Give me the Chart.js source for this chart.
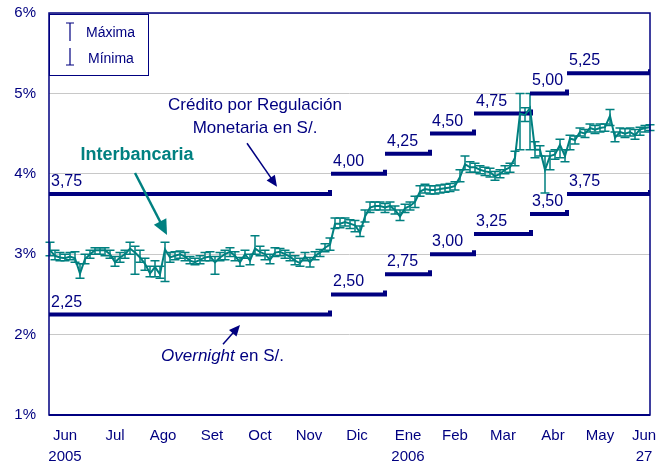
<!DOCTYPE html>
<html>
<head>
<meta charset="utf-8">
<script src="https://cdn.jsdelivr.net/npm/chart.js@4"></script>
<style>
  body { margin: 0; background: #fff; }
  canvas { display: block; }
</style>
</head>
<body>
<canvas id="chart" width="669" height="463"></canvas>
<script>
// tasa interbancaria promedio diaria (serie muestreada) y sus extremos
const tasaInterbancaria = [3.05, 2.98, 2.96, 2.95, 2.97, 2.95, 2.76, 2.94, 3.00, 3.05,
  3.05, 3.05, 3.00, 2.90, 2.96, 3.00, 3.07, 3.02, 2.96, 2.88,
  2.76, 2.84, 2.75, 3.06, 2.96, 2.98, 3.00, 2.97, 2.92, 2.90,
  2.93, 2.96, 2.97, 2.90, 2.96, 3.00, 3.03, 2.98, 2.90, 3.00,
  2.92, 3.07, 3.03, 3.00, 2.93, 3.02, 3.03, 3.00, 2.97, 2.92,
  2.89, 2.97, 2.90, 2.98, 3.02, 3.08, 3.12, 3.38, 3.38, 3.40,
  3.38, 3.36, 3.27, 3.47, 3.58, 3.60, 3.60, 3.58, 3.60, 3.55,
  3.47, 3.57, 3.60, 3.65, 3.78, 3.81, 3.80, 3.80, 3.81, 3.82,
  3.83, 3.85, 3.96, 4.12, 4.08, 4.08, 4.05, 4.03, 4.02, 3.97,
  4.00, 4.05, 4.08, 4.20, 4.75, 4.73, 4.82, 4.30, 4.30, 4.05,
  4.22, 4.24, 4.36, 4.22, 4.44, 4.42, 4.52, 4.50, 4.57, 4.55,
  4.57, 4.58, 4.72, 4.45, 4.52, 4.50, 4.52, 4.48, 4.55, 4.57, 4.58];
const maxima = [3.15, 3.05, 3.02, 3.00, 3.02, 3.03, 2.88, 3.00, 3.05, 3.08,
  3.08, 3.08, 3.05, 2.97, 3.02, 3.05, 3.15, 3.10, 3.05, 2.95,
  2.85, 2.92, 2.85, 3.15, 3.02, 3.03, 3.04, 3.02, 2.97, 2.95,
  2.98, 3.02, 3.03, 2.97, 3.02, 3.05, 3.08, 3.03, 2.96, 3.05,
  3.00, 3.23, 3.10, 3.05, 3.00, 3.08, 3.07, 3.05, 3.02, 2.98,
  2.95, 3.02, 2.96, 3.03, 3.06, 3.13, 3.20, 3.45, 3.45, 3.45,
  3.43, 3.42, 3.35, 3.55, 3.65, 3.65, 3.65, 3.63, 3.65, 3.60,
  3.55, 3.62, 3.65, 3.72, 3.85, 3.87, 3.85, 3.85, 3.86, 3.87,
  3.88, 3.90, 4.05, 4.22, 4.15, 4.13, 4.10, 4.08, 4.07, 4.03,
  4.05, 4.10, 4.13, 4.28, 5.00, 4.82, 5.00, 4.40, 4.35, 4.22,
  4.28, 4.30, 4.43, 4.30, 4.48, 4.47, 4.57, 4.55, 4.62, 4.60,
  4.62, 4.62, 4.80, 4.52, 4.57, 4.56, 4.57, 4.55, 4.58, 4.60, 4.61];
const minima = [2.98, 2.93, 2.92, 2.92, 2.93, 2.90, 2.70, 2.88, 2.95, 3.00,
  3.00, 2.98, 2.95, 2.85, 2.90, 2.95, 3.00, 2.75, 2.90, 2.80,
  2.72, 2.72, 2.70, 2.66, 2.90, 2.93, 2.95, 2.92, 2.88, 2.87,
  2.88, 2.92, 2.92, 2.75, 2.92, 2.93, 2.97, 2.92, 2.85, 2.95,
  2.87, 3.00, 2.98, 2.93, 2.88, 2.97, 2.98, 2.95, 2.92, 2.87,
  2.85, 2.92, 2.84, 2.93, 2.97, 3.03, 3.05, 3.32, 3.33, 3.35,
  3.32, 3.28, 3.22, 3.40, 3.52, 3.55, 3.55, 3.52, 3.55, 3.50,
  3.42, 3.52, 3.55, 3.58, 3.72, 3.76, 3.75, 3.75, 3.76, 3.77,
  3.78, 3.80, 3.90, 4.05, 4.02, 4.02, 4.00, 3.98, 3.96, 3.92,
  3.95, 4.00, 4.02, 4.10, 4.30, 4.65, 4.30, 4.20, 4.22, 3.76,
  4.05, 4.18, 4.20, 4.15, 4.30, 4.37, 4.47, 4.45, 4.52, 4.50,
  4.52, 4.53, 4.60, 4.40, 4.47, 4.45, 4.47, 4.43, 4.48, 4.52, 4.54];

// tramos del corredor (en número de observación)
const inicioTramos = [-0.2, 56.2, 67, 76, 84.8, 96, 103.4];
const finTramos = [56, 67, 76, 84.8, 96.2, 103.4, 120];
const tasaCredito = [3.75, 4.00, 4.25, 4.50, 4.75, 5.00, 5.25];
const tasaOvernight = [2.25, 2.50, 2.75, 3.00, 3.25, 3.50, 3.75];

// eje x
const posMeses = [3, 13, 22.6, 32.4, 42, 51.8, 61.4, 71.6, 81, 90.6, 100.6, 110, 118.8];
const etiquetasMeses = [['Jun', '2005'], 'Jul', 'Ago', 'Set', 'Oct', 'Nov', 'Dic', ['Ene', '2006'], 'Feb', 'Mar', 'Abr', 'May', ['Jun', '27']];

const AZUL = '#000080';
const VERDE = '#008080';
const FUENTE = '"Liberation Sans", Arial, sans-serif';

function tramos(tasas) {
  const pts = [];
  tasas.forEach((t, i) => {
    pts.push({x: inicioTramos[i], y: t});
    pts.push({x: finTramos[i], y: t});
    pts.push({x: finTramos[i], y: t + 0.05});
    pts.push({x: finTramos[i], y: null});
  });
  return pts;
}

function flecha(ctx, x1, y1, x2, y2, color, ancho, largo, abre) {
  const ang = Math.atan2(y2 - y1, x2 - x1);
  ctx.save();
  ctx.strokeStyle = color;
  ctx.fillStyle = color;
  ctx.lineWidth = ancho;
  ctx.beginPath();
  ctx.moveTo(x1, y1);
  ctx.lineTo(x2 - Math.cos(ang) * largo * 0.8, y2 - Math.sin(ang) * largo * 0.8);
  ctx.stroke();
  ctx.beginPath();
  ctx.moveTo(x2, y2);
  ctx.lineTo(x2 - largo * Math.cos(ang) + abre * Math.sin(ang), y2 - largo * Math.sin(ang) - abre * Math.cos(ang));
  ctx.lineTo(x2 - largo * Math.cos(ang) - abre * Math.sin(ang), y2 - largo * Math.sin(ang) + abre * Math.cos(ang));
  ctx.closePath();
  ctx.fill();
  ctx.restore();
}

const extrasPlugin = {
  id: 'extras',
  beforeDatasetsDraw(chart) {
    // barras de máxima y mínima
    const {ctx, scales: {x, y}} = chart;
    ctx.save();
    ctx.strokeStyle = VERDE;
    ctx.lineWidth = 1.5;
    tasaInterbancaria.forEach((v, i) => {
      const px = x.getPixelForValue(i);
      const pMax = y.getPixelForValue(maxima[i]);
      const pMin = y.getPixelForValue(minima[i]);
      ctx.beginPath();
      ctx.moveTo(px, pMax); ctx.lineTo(px, pMin);
      ctx.moveTo(px - 4.5, pMax); ctx.lineTo(px + 4.5, pMax);
      ctx.moveTo(px - 4.5, pMin); ctx.lineTo(px + 4.5, pMin);
      ctx.stroke();
    });
    ctx.restore();
  },
  afterDraw(chart) {
    const {ctx, chartArea: a, scales: {x, y}} = chart;
    ctx.save();
    // marco
    ctx.strokeStyle = AZUL;
    ctx.lineWidth = 1.5;
    ctx.strokeRect(a.left, a.top, a.right - a.left, a.bottom - a.top);
    ctx.lineWidth = 2;
    ctx.beginPath();
    ctx.moveTo(a.left, a.bottom); ctx.lineTo(a.right, a.bottom);
    ctx.stroke();

    // etiquetas de las tasas del corredor
    ctx.fillStyle = AZUL;
    ctx.font = '16px ' + FUENTE;
    ctx.textBaseline = 'alphabetic';
    ctx.textAlign = 'left';
    const etiqueta = t => t.toFixed(2).replace('.', ',');
    tasaCredito.forEach((t, i) => {
      ctx.fillText(etiqueta(t), x.getPixelForValue(inicioTramos[i]) + 2, y.getPixelForValue(t) - 8);
    });
    tasaOvernight.forEach((t, i) => {
      ctx.fillText(etiqueta(t), x.getPixelForValue(inicioTramos[i]) + 2, y.getPixelForValue(t) - 8);
    });

    // textos
    ctx.font = '17px ' + FUENTE;
    ctx.textAlign = 'center';
    ctx.textBaseline = 'middle';
    ctx.fillText('Crédito por Regulación', x.getPixelForValue(41), y.getPixelForValue(4.85));
    ctx.fillText('Monetaria en S/.', x.getPixelForValue(41), y.getPixelForValue(4.57));
    flecha(ctx, x.getPixelForValue(39.4), y.getPixelForValue(4.38), x.getPixelForValue(45.4), y.getPixelForValue(3.84), AZUL, 1.5, 11, 5);

    ctx.font = 'italic 17px ' + FUENTE;
    const w1 = ctx.measureText('Overnight').width;
    ctx.font = '17px ' + FUENTE;
    const w2 = ctx.measureText(' en S/.').width;
    const cx = x.getPixelForValue(34.5) - (w1 + w2) / 2;
    const cy = y.getPixelForValue(1.73);
    ctx.textAlign = 'left';
    ctx.font = 'italic 17px ' + FUENTE;
    ctx.fillText('Overnight', cx, cy);
    ctx.font = '17px ' + FUENTE;
    ctx.fillText(' en S/.', cx + w1, cy);
    flecha(ctx, x.getPixelForValue(34.6), y.getPixelForValue(1.88), x.getPixelForValue(38), y.getPixelForValue(2.12), AZUL, 1.5, 11, 5);

    ctx.fillStyle = VERDE;
    ctx.font = 'bold 18px ' + FUENTE;
    ctx.textAlign = 'center';
    ctx.fillText('Interbancaria', x.getPixelForValue(17.4), y.getPixelForValue(4.23));
    flecha(ctx, x.getPixelForValue(17), y.getPixelForValue(4.01), x.getPixelForValue(23.4), y.getPixelForValue(3.24), VERDE, 2.5, 15, 7);

    // leyenda
    const lx = a.left, ly = a.top + 1;
    ctx.fillStyle = '#fff';
    ctx.fillRect(lx, ly, 99, 61);
    ctx.strokeStyle = AZUL;
    ctx.lineWidth = 1;
    ctx.strokeRect(lx + 0.5, ly + 0.5, 99, 61);
    ctx.lineWidth = 1.2;
    ctx.beginPath();
    ctx.moveTo(lx + 21, ly + 9); ctx.lineTo(lx + 21, ly + 27);
    ctx.moveTo(lx + 17, ly + 9); ctx.lineTo(lx + 25, ly + 9);
    ctx.moveTo(lx + 21, ly + 34); ctx.lineTo(lx + 21, ly + 51);
    ctx.moveTo(lx + 17, ly + 51); ctx.lineTo(lx + 25, ly + 51);
    ctx.stroke();
    ctx.fillStyle = AZUL;
    ctx.font = '14px ' + FUENTE;
    ctx.textAlign = 'left';
    ctx.fillText('Máxima', lx + 37, ly + 19);
    ctx.fillText('Mínima', lx + 39, ly + 45);
    ctx.restore();
  }
};

new Chart(document.getElementById('chart'), {
  type: 'line',
  data: {
    datasets: [
      {
        label: 'Interbancaria',
        data: tasaInterbancaria.map((v, i) => ({x: i, y: v})),
        borderColor: VERDE,
        borderWidth: 2,
        pointRadius: 0,
        tension: 0
      },
      {
        label: 'Crédito por Regulación Monetaria',
        data: tramos(tasaCredito),
        borderColor: AZUL,
        borderWidth: 4,
        pointRadius: 0,
        spanGaps: false,
        borderCapStyle: 'butt',
        borderJoinStyle: 'miter'
      },
      {
        label: 'Overnight',
        data: tramos(tasaOvernight),
        borderColor: AZUL,
        borderWidth: 4,
        pointRadius: 0,
        spanGaps: false,
        borderCapStyle: 'butt',
        borderJoinStyle: 'miter'
      }
    ]
  },
  options: {
    responsive: false,
    animation: false,
    layout: { padding: { top: 13, right: 19, left: 0, bottom: 0 } },
    plugins: { legend: { display: false }, tooltip: { enabled: false } },
    scales: {
      x: {
        type: 'linear',
        min: -0.2,
        max: 120,
        grid: { display: false, drawTicks: false },
        border: { display: false },
        afterBuildTicks: s => { s.ticks = posMeses.map(v => ({value: v})); },
        afterFit: s => { s.height = 48; s.paddingLeft = 0; s.paddingRight = 0; },
        ticks: {
          autoSkip: false,
          maxRotation: 0,
          padding: 10,
          color: AZUL,
          font: { family: FUENTE, size: 15, lineHeight: 1.4 },
          callback: (v, i) => etiquetasMeses[i]
        }
      },
      y: {
        min: 1,
        max: 6,
        grid: { color: '#c8c8c8', drawTicks: false },
        border: { display: false },
        afterFit: s => { s.width = 49; s.paddingTop = 0; s.paddingBottom = 0; },
        ticks: {
          stepSize: 1,
          padding: 13,
          color: AZUL,
          font: { family: FUENTE, size: 15 },
          callback: v => v + '%'
        }
      }
    }
  },
  plugins: [extrasPlugin]
});
</script>
</body>
</html>
